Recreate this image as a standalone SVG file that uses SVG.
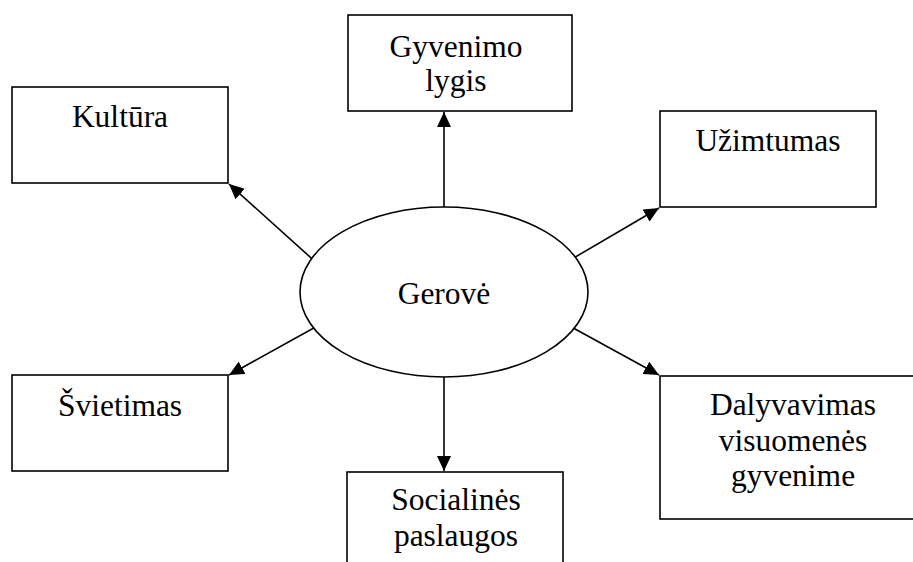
<svg xmlns="http://www.w3.org/2000/svg" width="913" height="562" viewBox="0 0 913 562">
<style>
.box{fill:#fff;stroke:#000;stroke-width:1.6}
.lbl{font-family:"Liberation Serif","Times New Roman",serif;font-size:31.5px;fill:#000;text-anchor:middle}
.con{stroke:#000;stroke-width:1.6;fill:none;marker-end:url(#ah)}
</style>
<defs>
<marker id="ah" markerWidth="15" markerHeight="14" refX="15" refY="7" orient="auto" markerUnits="userSpaceOnUse">
<path d="M0,0 L15,7 L0,14 Z" fill="#000"/>
</marker>
</defs>
<rect width="913" height="562" fill="#fff"/>
<g id="connectors">
<line class="con" x1="444" y1="240" x2="444" y2="112"/>
<line class="con" x1="330" y1="275" x2="229" y2="184"/>
<line class="con" x1="560" y1="266" x2="659" y2="208"/>
<line class="con" x1="330" y1="319" x2="229" y2="375"/>
<line class="con" x1="555" y1="318" x2="659" y2="375"/>
<line class="con" x1="444" y1="340" x2="444" y2="471"/>
</g>
<g id="gerove">
<ellipse class="box" cx="444" cy="292" rx="144" ry="85"/>
<text class="lbl" x="444" y="304">Gerovė</text>
</g>
<g id="gyvenimo-lygis">
<rect class="box" x="348" y="15" width="224" height="96"/>
<text class="lbl" x="456" y="57">Gyvenimo</text>
<text class="lbl" x="456" y="91">lygis</text>
</g>
<g id="kultura">
<rect class="box" x="12" y="87" width="216" height="96"/>
<text class="lbl" x="120" y="127">Kultūra</text>
</g>
<g id="uzimtumas">
<rect class="box" x="660" y="111" width="216" height="96"/>
<text class="lbl" x="768" y="151">Užimtumas</text>
</g>
<g id="svietimas">
<rect class="box" x="12" y="375" width="216" height="96"/>
<text class="lbl" x="120" y="416">Švietimas</text>
</g>
<g id="socialines-paslaugos">
<rect class="box" x="347" y="472" width="216" height="110"/>
<text class="lbl" x="456" y="510">Socialinės</text>
<text class="lbl" x="456" y="546">paslaugos</text>
</g>
<g id="dalyvavimas">
<rect class="box" x="660" y="376" width="260" height="143"/>
<text class="lbl" x="793" y="415">Dalyvavimas</text>
<text class="lbl" x="793" y="451">visuomenės</text>
<text class="lbl" x="793" y="486">gyvenime</text>
</g>
</svg>
